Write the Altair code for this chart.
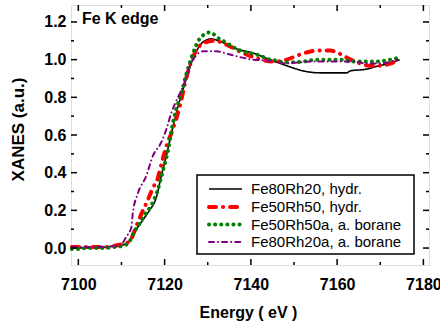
import altair as alt
import pandas as pd

# ---------------- data ----------------
series_names = ["Fe80Rh20, hydr.", "Fe50Rh50, hydr.", "Fe50Rh50a, a. borane", "Fe80Rh20a, a. borane"]

e_black = [7098.5, 7102, 7106, 7108, 7110, 7111.5, 7112.3, 7113.5, 7115, 7116.5, 7118.1, 7119.2,
           7120.4, 7121.6, 7123.1, 7124.5, 7126, 7127.5, 7129, 7130.8, 7132.5, 7134.5, 7137,
           7140.5, 7144.4, 7148.3, 7150.6, 7152.2, 7156, 7162.3, 7163, 7166.9, 7169.2, 7172, 7174.5]
y_black = [0.0, 0.0, 0.005, 0.01, 0.015, 0.03, 0.05, 0.10, 0.15, 0.20, 0.27, 0.38,
           0.49, 0.61, 0.75, 0.86, 0.97, 1.05, 1.095, 1.11, 1.10, 1.08, 1.055,
           1.035, 1.0, 0.968, 0.95, 0.94, 0.93, 0.93, 0.94, 0.95, 0.965, 0.98, 1.0]

e_red = [7098.5, 7102, 7106, 7108, 7110, 7111.5, 7112.5, 7113.5, 7114.6, 7116.1, 7117.3, 7118.4,
         7119.3, 7120.4, 7121.9, 7123.5, 7125, 7127, 7129.3, 7131.6, 7134.3, 7137.4, 7140.5,
         7145.2, 7148.3, 7151.4, 7155.3, 7158.4, 7160.7, 7162.3, 7165.3, 7167.3, 7170, 7172.3, 7174]
y_red = [0.005, 0.005, 0.005, 0.01, 0.02, 0.03, 0.06, 0.12, 0.18, 0.255, 0.32, 0.37,
         0.45, 0.54, 0.63, 0.75, 0.90, 1.035, 1.09, 1.10, 1.08, 1.044, 1.014,
         0.99, 1.0, 1.027, 1.048, 1.048, 1.03, 1.01, 0.98, 0.968, 0.968, 0.979, 0.995]

e_green = [7098.5, 7100, 7102, 7104, 7106, 7108, 7110, 7111, 7112, 7113, 7114.2, 7115.5, 7117,
           7118.3, 7119.6, 7120.8, 7121.8, 7122.7, 7123.5, 7125, 7126.6, 7128.1, 7130.5, 7132.4,
           7134.3, 7136.7, 7138.2, 7139.8, 7141.3, 7142.9, 7144.4, 7146, 7147.5, 7150.4, 7152.2,
           7155.3, 7158.4, 7161.5, 7163, 7166.1, 7169.2, 7172.3, 7175]
y_green = [-0.005, -0.005, 0.0, 0.0, 0.0, 0.005, 0.01, 0.016, 0.04, 0.087, 0.13, 0.18, 0.23,
           0.30, 0.41, 0.52, 0.65, 0.74, 0.79, 0.92, 1.035, 1.11, 1.145, 1.115,
           1.09, 1.057, 1.044, 1.035, 1.027, 1.014, 1.0, 0.995, 0.986, 0.986, 0.99,
           1.0, 1.0, 1.0, 0.99, 0.99, 0.99, 1.0, 1.014]

e_purple = [7098.5, 7102, 7106, 7108, 7110, 7111.1, 7112.3, 7112.6, 7113.8, 7115.7, 7117.3, 7119.2,
            7120.4, 7121.6, 7122.3, 7124.3, 7126.6, 7128.9, 7132, 7134.7, 7137.4, 7140.5, 7143.6,
            7148.3, 7151.4, 7154.5, 7159.1, 7163.8, 7166.9, 7170, 7173.9]
y_purple = [0.005, 0.005, 0.005, 0.01, 0.02, 0.06, 0.11, 0.18, 0.29, 0.38, 0.49, 0.56,
            0.63, 0.72, 0.76, 0.86, 1.0, 1.044, 1.044, 1.03, 1.014, 1.0, 0.996,
            0.98, 0.986, 0.99, 0.99, 0.99, 0.98, 0.98, 1.0]

x_ticks_major = [7100, 7120, 7140, 7160, 7180]
x_ticks_minor = [7110, 7130, 7150, 7170]
y_ticks_major = [0.0, 0.2, 0.4, 0.6, 0.8, 1.0, 1.2]
y_ticks_minor = [0.1, 0.3, 0.5, 0.7, 0.9, 1.1]

x_title = "Energy ( eV )"
y_title = "XANES (a.u.)"
annotation = "Fe K edge"

# ---------------- styles ----------------
W, H = 358, 260
FONT = "Liberation Sans"
styles = [
    dict(color="#000000", strokeWidth=1.6, strokeDash=[1, 0], strokeCap="butt"),
    dict(color="#ff0000", strokeWidth=4, strokeDash=[7, 7, 0.1, 7], strokeCap="round"),
    dict(color="#008000", strokeWidth=4, strokeDash=[0.1, 6], strokeCap="round"),
    dict(color="#800080", strokeWidth=2, strokeDash=[5, 4, 0.1, 4], strokeCap="round"),
]
series_data = [(e_black, y_black), (e_red, y_red), (e_green, y_green), (e_purple, y_purple)]

xscale = alt.Scale(domain=[7098.3, 7181.3], nice=False, zero=False)
yscale = alt.Scale(domain=[-0.09, 1.29], nice=False, zero=False)

xaxis = alt.Axis(values=x_ticks_major, format="d", ticks=False, domain=False, grid=False,
                 labelFont=FONT, labelFontWeight="bold", labelFontSize=16, labelPadding=11,
                 labelColor="black", title=x_title, titleFont=FONT, titleFontSize=16,
                 titleFontWeight="bold", titleColor="black", titleX=W / 2 - 2, titleY=52,
                 titleBaseline="alphabetic", titleAlign="center")
yaxis = alt.Axis(values=y_ticks_major, format=".1f", ticks=False, domain=False, grid=False,
                 labelFont=FONT, labelFontWeight="bold", labelFontSize=16, labelPadding=5,
                 labelColor="black", title=y_title, titleFont=FONT, titleFontSize=17,
                 titleFontWeight="bold", titleColor="black", titleAngle=-90, titleX=-53,
                 titleY=124, titleBaseline="middle", titleAlign="center")

layers = []
for i, (name, (ev, yv), st) in enumerate(zip(series_names, series_data, styles)):
    df = pd.DataFrame({"E": ev, "Y": yv, "series": name})
    enc_x = alt.X("E:Q", scale=xscale, axis=xaxis)
    enc_y = alt.Y("Y:Q", scale=yscale, axis=yaxis)
    layers.append(
        alt.Chart(df).mark_line(interpolate="monotone", **st).encode(x=enc_x, y=enc_y)
    )

# inward ticks
def xticks(vals, length):
    df = pd.DataFrame({"E": vals})
    b = alt.Chart(df).mark_rule(color="black", strokeWidth=1.5).encode(
        x=alt.X("E:Q", scale=xscale, axis=xaxis), y=alt.value(H), y2=alt.value(H - length))
    t = alt.Chart(df).mark_rule(color="black", strokeWidth=1.5).encode(
        x=alt.X("E:Q", scale=xscale, axis=xaxis), y=alt.value(0), y2=alt.value(length))
    return [b, t]

def yticks(vals, length):
    df = pd.DataFrame({"Y": vals})
    l = alt.Chart(df).mark_rule(color="black", strokeWidth=1.5).encode(
        y=alt.Y("Y:Q", scale=yscale, axis=yaxis), x=alt.value(0), x2=alt.value(length))
    r = alt.Chart(df).mark_rule(color="black", strokeWidth=1.5).encode(
        y=alt.Y("Y:Q", scale=yscale, axis=yaxis), x=alt.value(W), x2=alt.value(W - length))
    return [l, r]

tick_layers = xticks(x_ticks_major, 6) + xticks(x_ticks_minor, 3) + yticks(y_ticks_major, 6) + yticks(y_ticks_minor, 3)

# annotation
ann = alt.Chart(pd.DataFrame({"t": [annotation]})).mark_text(
    align="left", baseline="middle", font=FONT, fontSize=16, fontWeight="bold", color="black"
).encode(text="t:N", x=alt.value(11), y=alt.value(14))

# manual legend
leg_box = alt.Chart(pd.DataFrame({"a": [0]})).mark_rect(
    fill="white", stroke="black", strokeWidth=1.5
).encode(x=alt.value(126), x2=alt.value(343), y=alt.value(170), y2=alt.value(249))

row_y = [184, 202, 219.5, 237]
leg_layers = [leg_box]
for name, st, ry in zip(series_names, styles, row_y):
    d = pd.DataFrame({"s": [name]})
    leg_layers.append(alt.Chart(d).mark_rule(**st).encode(
        x=alt.value(138), x2=alt.value(171), y=alt.value(ry)))
    leg_layers.append(alt.Chart(d).mark_text(
        align="left", baseline="middle", font=FONT, fontSize=15, color="black"
    ).encode(text="s:N", x=alt.value(180), y=alt.value(ry)))

chart = alt.layer(*layers, *tick_layers, ann, *leg_layers).properties(
    width=W, height=H,
    autosize=alt.AutoSizeParams(type="none"),
    padding={"left": 71, "top": 5, "right": 11, "bottom": 62},
).configure_view(stroke="black", strokeWidth=2).configure(background="white")

chart.save("out.html", embed_options={"renderer": "svg", "actions": False})
